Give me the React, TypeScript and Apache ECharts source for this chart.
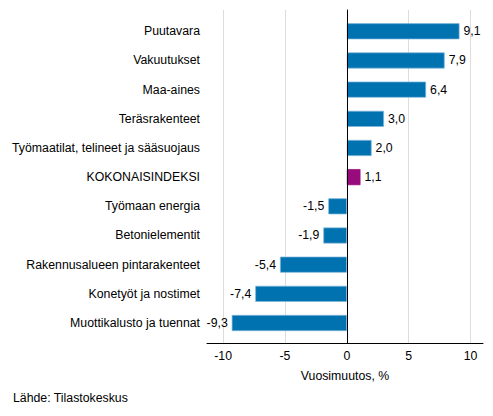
import React, { useEffect, useRef } from "react";
import * as echarts from "echarts";

const categories = [
  "Puutavara",
  "Vakuutukset",
  "Maa-aines",
  "Teräsrakenteet",
  "Työmaatilat, telineet ja sääsuojaus",
  "KOKONAISINDEKSI",
  "Työmaan energia",
  "Betonielementit",
  "Rakennusalueen pintarakenteet",
  "Konetyöt ja nostimet",
  "Muottikalusto ja tuennat",
];
const values = [9.1, 7.9, 6.4, 3.0, 2.0, 1.1, -1.5, -1.9, -5.4, -7.4, -9.3];
const tickValues = [-10, -5, 0, 5, 10];
const highlightCategory = "KOKONAISINDEKSI";
const axisTitle = "Vuosimuutos, %";
const sourceText = "Lähde: Tilastokeskus";

const FONT = "'Liberation Sans', Arial, sans-serif";
const FS = 12.3;
const TEXT = "#000";
const BLUE = "#0072b0";
const PURPLE = "#970b7c";
const X_MIN = -11.3;
const X_MAX = 11;

export default function App() {
  const ref = useRef<HTMLDivElement>(null);
  useEffect(() => {
    if (!ref.current) return;
    const chart = echarts.init(ref.current, undefined, { renderer: "svg" });
    const fmt = (v: number) => v.toFixed(1).replace(".", ",");
    chart.setOption({
      animation: false,
      textStyle: { fontFamily: FONT },
      grid: [
        { left: 207, right: 10, top: 10, bottom: 73 },
        { left: 207, right: 10, top: 16.7, bottom: 78.4 },
      ],
      xAxis: [
        {
          gridIndex: 0,
          type: "value",
          min: X_MIN,
          max: X_MAX,
          axisLine: { show: true, onZero: false, lineStyle: { color: "#000", width: 1 } },
          axisTick: { show: false, customValues: tickValues },
          axisLabel: {
            customValues: tickValues,
            color: TEXT,
            fontSize: FS,
            fontFamily: FONT,
            margin: 7,
            formatter: (v: number) => String(v),
          },
          splitLine: { show: true, lineStyle: { color: "#dcdcdc", width: 1 } },
          name: axisTitle,
          nameLocation: "middle",
          nameGap: 27,
          nameTextStyle: { color: TEXT, fontSize: FS, fontFamily: FONT },
        },
        {
          gridIndex: 1,
          type: "value",
          min: X_MIN,
          max: X_MAX,
          show: false,
        },
      ],
      yAxis: [
        {
          gridIndex: 0,
          type: "value",
          min: 0,
          max: 1,
          axisLine: { show: true, onZero: true, lineStyle: { color: "#000", width: 1 } },
          axisTick: { show: false },
          axisLabel: { show: false },
          splitLine: { show: false },
          z: 10,
        },
        {
          gridIndex: 1,
          type: "category",
          inverse: true,
          data: categories,
          axisLine: { show: false },
          axisTick: { show: false },
          axisLabel: { color: TEXT, fontSize: FS, fontFamily: FONT, margin: 7 },
          splitLine: { show: false },
        },
      ],
      series: [
        {
          type: "bar",
          xAxisIndex: 1,
          yAxisIndex: 1,
          barCategoryGap: "45%",
          data: values.map((v, i) => ({
            value: v,
            itemStyle: {
              color: categories[i] === highlightCategory ? PURPLE : BLUE,
              borderColor: categories[i] === highlightCategory ? PURPLE : "#7fb6da",
              borderWidth: 0.7,
            },
            label: {
              show: true,
              position: v >= 0 ? "right" : "left",
              distance: 4,
              formatter: () => fmt(v),
              color: TEXT,
              fontSize: FS,
              fontFamily: FONT,
            },
          })),
        },
      ],
      graphic: [
        {
          type: "text",
          left: 13,
          top: 392,
          style: { text: sourceText, fill: TEXT, fontSize: FS, fontFamily: FONT },
        },
      ],
    });
    return () => chart.dispose();
  }, []);
  return (
    <div
      ref={ref}
      style={{ position: "fixed", left: 0, top: 0, width: 493, height: 416, background: "#fff" }}
    />
  );
}
